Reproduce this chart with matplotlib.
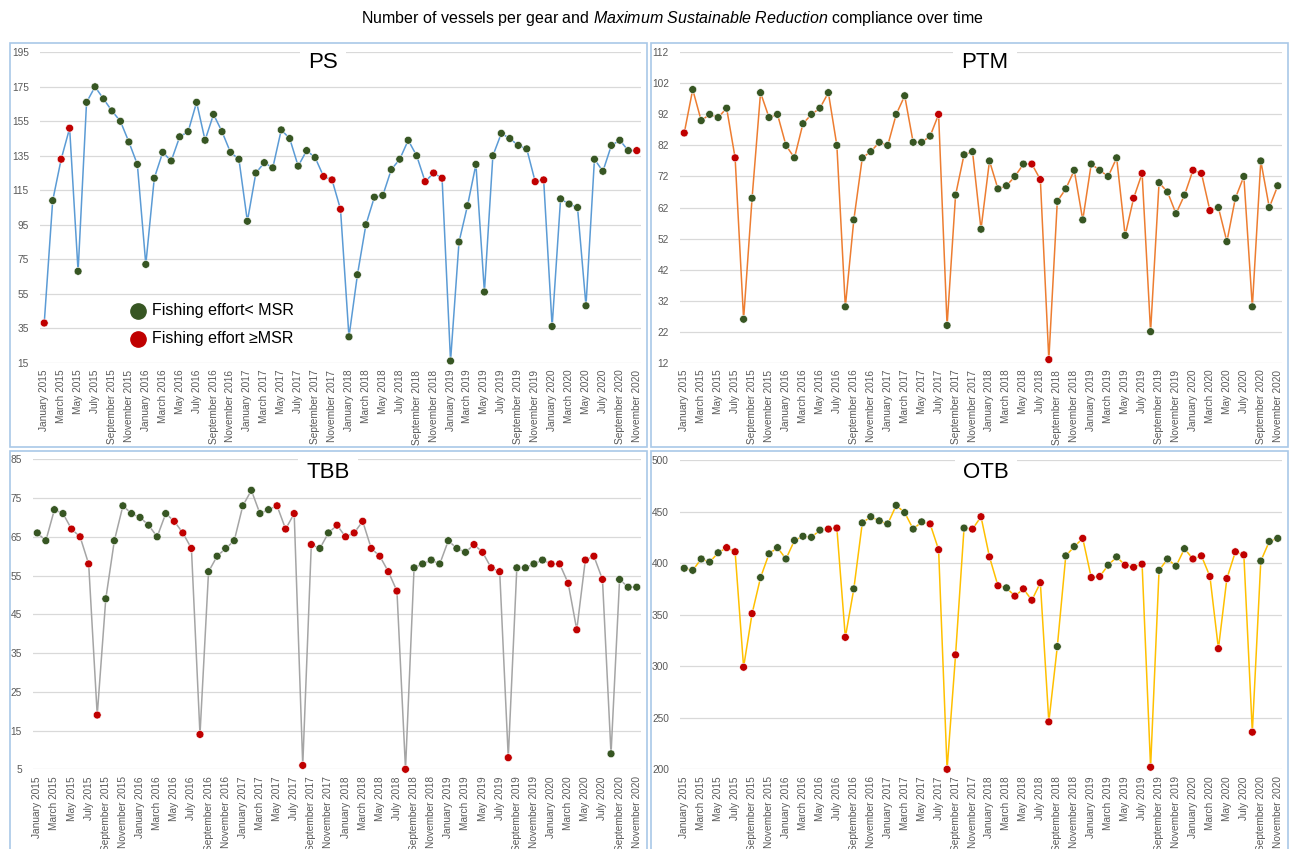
import matplotlib
matplotlib.use('Agg')
import matplotlib.pyplot as plt
from matplotlib.lines import Line2D
from matplotlib.patches import Rectangle

plt.rcParams['font.family'] = ['Liberation Sans', 'DejaVu Sans']
plt.rcParams['mathtext.fontset'] = 'custom'
plt.rcParams['mathtext.rm'] = 'Liberation Sans'
plt.rcParams['mathtext.it'] = 'Liberation Sans:italic'

# months Jan 2015 .. Nov 2020
month_names = ['January', 'February', 'March', 'April', 'May', 'June', 'July',
               'August', 'September', 'October', 'November', 'December']
years = [2015, 2016, 2017, 2018, 2019, 2020]
dates = [f'{m} {y}' for y in years for m in month_names][:71]

# values per gear, G = effort < MSR, R = effort >= MSR
ps_values = [38, 109, 133, 151, 68, 166, 175, 168, 161, 155, 143, 130,
             72, 122, 137, 132, 146, 149, 166, 144, 159, 149, 137, 133,
             97, 125, 131, 128, 150, 145, 129, 138, 134, 123, 121, 104,
             30, 66, 95, 111, 112, 127, 133, 144, 135, 120, 125, 122,
             16, 85, 106, 130, 56, 135, 148, 145, 141, 139, 120, 121,
             36, 110, 107, 105, 48, 133, 126, 141, 144, 138, 138]
ps_flags = ('RGRRGGGGGGGG' 'GGGGGGGGGGGG' 'GGGGGGGGGRRR'
            'GGGGGGGGGRRR' 'GGGGGGGGGGRR' 'GGGGGGGGGGR')

ptm_values = [86, 100, 90, 92, 91, 94, 78, 26, 65, 99, 91, 92,
              82, 78, 89, 92, 94, 99, 82, 30, 58, 78, 80, 83,
              82, 92, 98, 83, 83, 85, 92, 24, 66, 79, 80, 55,
              77, 68, 69, 72, 76, 76, 71, 13, 64, 68, 74, 58,
              76, 74, 72, 78, 53, 65, 73, 22, 70, 67, 60, 66,
              74, 73, 61, 62, 51, 65, 72, 30, 77, 62, 69]
ptm_flags = ('RGGGGGRGGGGG' 'GGGGGGGGGGGG' 'GGGGGGRGGGGG'
             'GGGGGRRRGGGG' 'GGGGGRRGGGGG' 'RRRGGGGGGGG')

tbb_values = [66, 64, 72, 71, 67, 65, 58, 19, 49, 64, 73, 71,
              70, 68, 65, 71, 69, 66, 62, 14, 56, 60, 62, 64,
              73, 77, 71, 72, 73, 67, 71, 6, 63, 62, 66, 68,
              65, 66, 69, 62, 60, 56, 51, 5, 57, 58, 59, 58,
              64, 62, 61, 63, 61, 57, 56, 8, 57, 57, 58, 59,
              58, 58, 53, 41, 59, 60, 54, 9, 54, 52, 52]
tbb_flags = ('GGGGRRRRGGGG' 'GGGGRRRRGGGG' 'GGGGRRRRRGGR'
             'RRRRRRRRGGGG' 'GGGRRRRRGGGG' 'RRRRRRRGGGG')

otb_values = [395, 393, 404, 401, 410, 415, 411, 299, 351, 386, 409, 415,
              404, 422, 426, 425, 432, 433, 434, 328, 375, 439, 445, 441,
              438, 456, 449, 433, 440, 438, 413, 200, 311, 434, 433, 445,
              406, 378, 376, 368, 375, 364, 381, 246, 319, 407, 416, 424,
              386, 387, 398, 406, 398, 396, 399, 202, 393, 404, 397, 414,
              404, 407, 387, 317, 385, 411, 408, 236, 402, 421, 424]
otb_flags = ('GGGGGRRRRGGG' 'GGGGGRRRGGGG' 'GGGGGRRRRGRR'
             'RRGRRRRRGGGR' 'RRGGRRRRGGGG' 'RRRRRRRRGGG')

GREEN = '#375623'
RED = '#C00000'
W, H = 1293, 849

fig = plt.figure(figsize=(W / 100, H / 100), dpi=100)

panels = [
    # name, values, flags, line colour, yticks, axes box (l, t, r, b), frame, title centre
    ('PS', ps_values, ps_flags, '#5B9BD5', range(15, 196, 20),
     (40, 52.3, 641, 362.7), (10, 43, 647, 447), (323, 63)),
    ('PTM', ptm_values, ptm_flags, '#ED7D31', range(12, 113, 10),
     (680, 52.3, 1282, 362.7), (651, 43, 1288, 447), (985, 63)),
    ('TBB', tbb_values, tbb_flags, '#A5A5A5', range(5, 86, 10),
     (33, 459.3, 641, 769.3), (10, 451, 647, 860), (328, 473)),
    ('OTB', otb_values, otb_flags, '#FFC000', range(200, 501, 50),
     (680, 460, 1282, 769.3), (651, 451, 1288, 860), (986, 473)),
]

x = list(range(len(dates)))
for name, vals, flags, lc, yt, box, frame, tc in panels:
    l, t, r, b = box
    ax = fig.add_axes([l / W, 1 - b / H, (r - l) / W, (b - t) / H])
    ax.plot(x, vals, color=lc, lw=1.1, zorder=2)
    cols = [GREEN if f == 'G' else RED for f in flags]
    ax.scatter(x, vals, s=32, c=cols, edgecolors='white', linewidths=0.4,
               zorder=3, clip_on=False)
    ax.set_xlim(-0.5, 70.5)
    ax.set_ylim(yt[0], yt[-1])
    ax.set_yticks(list(yt))
    ax.set_xticks(x[::2])
    ax.set_xticklabels(dates[::2], rotation=90)
    ax.grid(axis='y', color='#D9D9D9', lw=0.9)
    ax.set_axisbelow(True)
    for s in ax.spines.values():
        s.set_visible(False)
    ax.tick_params(axis='both', length=0, colors='#595959', labelsize=7.3)
    ax.tick_params(axis='y', pad=8)
    ax.tick_params(axis='x', pad=5)

    fl, ft, fr, fb = frame
    fig.add_artist(Rectangle((fl / W, 1 - fb / H), (fr - fl) / W, (fb - ft) / H,
                             transform=fig.transFigure, fill=False,
                             edgecolor='#A9C8E8', lw=1.2))
    fig.text(tc[0] / W, 1 - tc[1] / H, name, fontsize=16, ha='center', va='center',
             bbox=dict(fc='white', ec='none', pad=6))

# legend inside PS panel
for yy, c, lab in [(310.7, GREEN, 'Fishing effort< MSR'),
                   (339, RED, 'Fishing effort \u2265MSR')]:
    fig.add_artist(Line2D([137.7 / W], [1 - yy / H], transform=fig.transFigure,
                          marker='o', ls='', color=c, markersize=11))
    fig.text(151.7 / W, 1 - yy / H, lab, fontsize=11.5, va='center', ha='left')

fig.text(672 / W, 1 - 18 / H,
         r'Number of vessels per gear and $\mathit{Maximum\ Sustainable\ Reduction}$ compliance over time',
         ha='center', va='center', fontsize=11.5)

fig.savefig('out.png', dpi=100)
